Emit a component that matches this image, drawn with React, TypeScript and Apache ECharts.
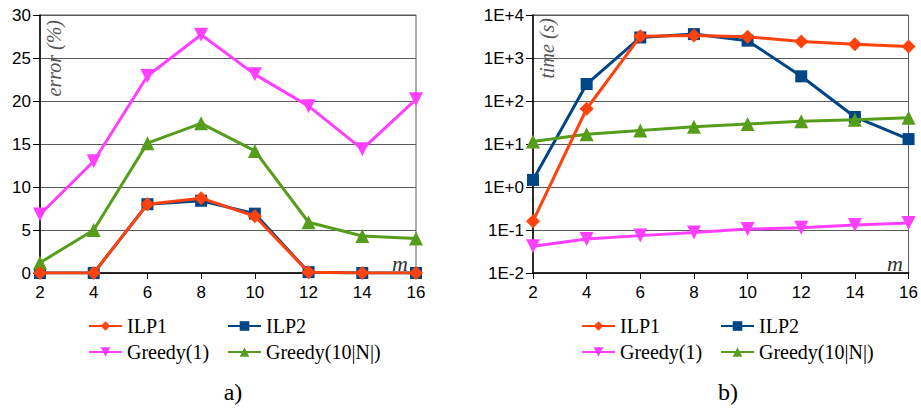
import React, { useEffect, useRef } from "react";
import * as echarts from "echarts";

const mValues = [2, 4, 6, 8, 10, 12, 14, 16];
const seriesNames = ["ILP1", "ILP2", "Greedy(1)", "Greedy(10|N|)"];

// a) error (%)
const errILP1 = [0, 0, 8.0, 8.7, 6.6, 0.1, 0, 0];
const errILP2 = [0, 0, 8.0, 8.4, 6.9, 0.1, 0, 0];
const errGreedy1 = [6.8, 13.0, 22.9, 27.7, 23.1, 19.4, 14.4, 20.2];
const errGreedy10N = [1.2, 5.0, 15.1, 17.4, 14.2, 5.9, 4.3, 4.0];

// b) time (s)
const timeILP1 = [0.16, 66, 3200, 3350, 3100, 2430, 2100, 1860];
const timeILP2 = [1.46, 248, 3000, 3600, 2530, 375, 42.5, 13];
const timeGreedy1 = [0.042, 0.062, 0.074, 0.088, 0.105, 0.113, 0.13, 0.146];
const timeGreedy10N = [11.5, 16.8, 20.7, 25.3, 29.2, 33.6, 36.7, 40.9];

const colors = ["#ff420e", "#004586", "#ff3fff", "#579d1c"];
const symbols = ["diamond", "rect", "triangle", "triangle"];
const symbolRotates = [0, 0, 180, 0];
const symbolSizes = [14, 12, 14, 14];

const pair = (vals: number[]) => mValues.map((m, i) => [m, vals[i]]);

export default function App() {
  const ref = useRef<HTMLDivElement>(null);
  useEffect(() => {
    document.body.style.margin = "0";
    document.body.style.overflow = "hidden";
    if (!ref.current) return;
    const chart = echarts.init(ref.current, null, { renderer: "svg" });
    const serifFont = "Liberation Serif";
    const sansFont = "Liberation Sans";

    const grids = [
      { left: 40, top: 15, width: 376, height: 258 },
      { left: 533, top: 15, width: 376, height: 258 },
    ];

    const xAxes = [0, 1].map((g) => ({
      type: "value",
      gridIndex: g,
      min: 2,
      max: 16,
      interval: 2,
      axisLine: { show: true, lineStyle: { color: "#000", width: 1.5 } },
      axisTick: { show: true, length: 6, lineStyle: { color: "#000", width: 1 } },
      axisLabel: { color: "#000", fontSize: 17, fontFamily: sansFont, margin: 11 },
      splitLine: { show: false },
    }));

    const yAxes: any[] = [
      {
        type: "value",
        gridIndex: 0,
        min: 0,
        max: 30,
        interval: 5,
        axisLine: { show: true, lineStyle: { color: "#000", width: 1.5 } },
        axisTick: { show: true, length: 7, lineStyle: { color: "#000", width: 1 } },
        axisLabel: { color: "#000", fontSize: 17, fontFamily: sansFont, margin: 9 },
        splitLine: { show: true, lineStyle: { color: "#5a5a5a", width: 1 } },
      },
      {
        type: "log",
        logBase: 10,
        gridIndex: 1,
        min: 0.01,
        max: 10000,
        axisLine: { show: true, lineStyle: { color: "#000", width: 1.5 } },
        axisTick: { show: true, length: 7, lineStyle: { color: "#000", width: 1 } },
        axisLabel: {
          color: "#000",
          fontSize: 17,
          fontFamily: sansFont,
          margin: 9,
          formatter: (v: number) => {
            const e = Math.round(Math.log10(v));
            return "1E" + (e >= 0 ? "+" : "-") + Math.abs(e);
          },
        },
        minorTick: { show: false },
        splitLine: { show: true, lineStyle: { color: "#5a5a5a", width: 1 } },
      },
    ];

    const errData = [errILP1, errILP2, errGreedy1, errGreedy10N];
    const timeData = [timeILP1, timeILP2, timeGreedy1, timeGreedy10N];
    const order = [1, 3, 2, 0];

    const series: any[] = [];
    [errData, timeData].forEach((dataSet, g) => {
      order.forEach((i) => {
        series.push({
          type: "line",
          name: seriesNames[i],
          xAxisIndex: g,
          yAxisIndex: g,
          data: pair(dataSet[i]),
          symbol: symbols[i],
          symbolSize: symbolSizes[i],
          symbolRotate: symbolRotates[i],
          showAllSymbol: true,
          lineStyle: { color: colors[i], width: 3 },
          itemStyle: { color: colors[i] },
          z: 2 + (i === 0 ? 3 : i === 2 ? 2 : i === 3 ? 1 : 0),
        });
      });
    });

    const legendPos = [
      { name: "ILP1", dx: 88, y: 316 },
      { name: "ILP2", dx: 227, y: 316 },
      { name: "Greedy(1)", dx: 88, y: 342 },
      { name: "Greedy(10|N|)", dx: 227, y: 342 },
    ];
    const legends: any[] = [];
    [0, 493].forEach((off) => {
      legendPos.forEach((p) => {
        legends.push({
          data: [p.name],
          left: p.dx + off,
          top: p.y,
          padding: 0,
          itemWidth: 33,
          itemHeight: 12,
          itemGap: 6,
          selectedMode: false,
          textStyle: {
            fontFamily: serifFont,
            fontSize: 20,
            color: "#000",
            lineHeight: 20,
          },
        });
      });
    });

    const titleStyle = {
      fontFamily: serifFont,
      fontStyle: "italic",
      fontSize: 20,
      fill: "#555",
      align: "right",
      verticalAlign: "middle",
    };

    chart.setOption({
      animation: false,
      backgroundColor: "#fff",
      grid: grids.map((g) => ({
        ...g,
        show: true,
        borderColor: "#5a5a5a",
        borderWidth: 1,
        backgroundColor: "transparent",
      })),
      xAxis: xAxes,
      yAxis: yAxes,
      legend: legends,
      series,
      graphic: [
        { type: "text", x: 54, y: 20, rotation: Math.PI / 2, style: { text: "error (%)", ...titleStyle } },
        { type: "text", x: 547, y: 18, rotation: Math.PI / 2, style: { text: "time (s)", ...titleStyle } },
        {
          type: "text",
          x: 408,
          y: 263,
          style: { text: "m", fontFamily: serifFont, fontStyle: "italic", fontSize: 22, fill: "#333", align: "right", verticalAlign: "middle" },
        },
        {
          type: "text",
          x: 903,
          y: 263,
          style: { text: "m", fontFamily: serifFont, fontStyle: "italic", fontSize: 22, fill: "#333", align: "right", verticalAlign: "middle" },
        },
        {
          type: "text",
          x: 233,
          y: 392,
          style: { text: "a)", fontFamily: serifFont, fontSize: 24, fill: "#000", align: "center", verticalAlign: "middle" },
        },
        {
          type: "text",
          x: 728,
          y: 392,
          style: { text: "b)", fontFamily: serifFont, fontSize: 24, fill: "#000", align: "center", verticalAlign: "middle" },
        },
      ],
    });
    return () => chart.dispose();
  }, []);

  return <div ref={ref} style={{ width: 921, height: 409 }} />;
}
